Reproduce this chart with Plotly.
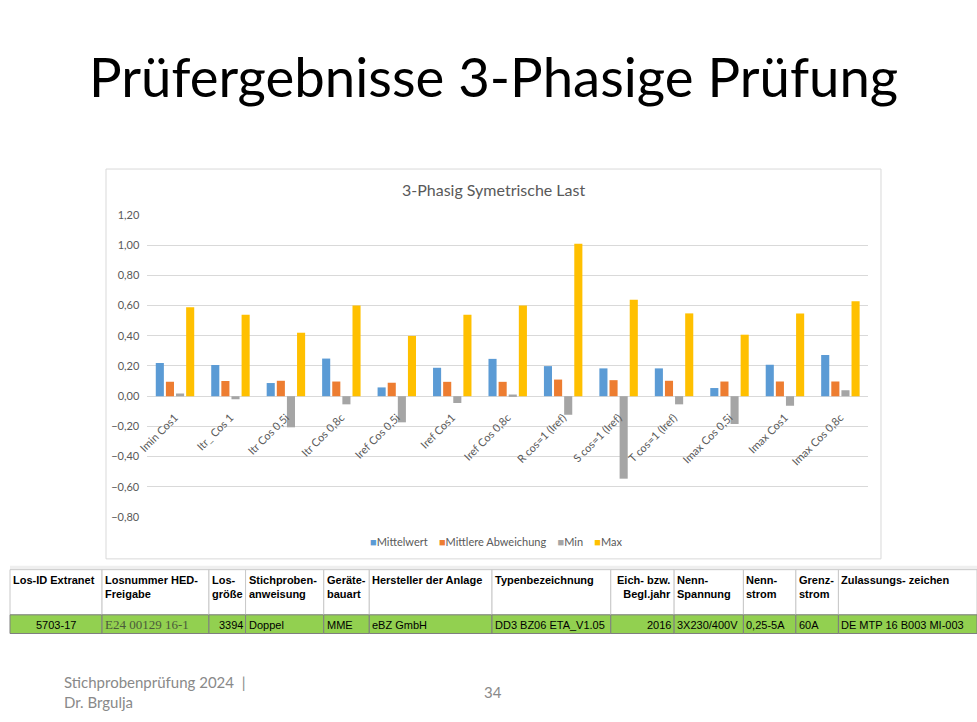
import plotly.graph_objects as go

categories = ["Imin Cos1", "Itr_ Cos 1", "Itr Cos 0,5i", "Itr Cos 0,8c", "Iref Cos 0,5i",
              "Iref Cos1", "Iref Cos 0,8c", "R cos=1 (Iref)", "S cos=1 (Iref)",
              "T cos=1 (Iref)", "Imax Cos 0,5i", "Imax Cos1", "Imax Cos 0,8c"]
mittelwert = [0.22, 0.206, 0.087, 0.249, 0.058, 0.188, 0.247, 0.199, 0.184, 0.184, 0.054, 0.208, 0.273]
abweichung = [0.095, 0.10, 0.102, 0.097, 0.089, 0.095, 0.095, 0.110, 0.106, 0.102, 0.097, 0.097, 0.097]
minimum = [0.017, -0.02, -0.206, -0.054, -0.173, -0.045, 0.011, -0.123, -0.546, -0.054, -0.184, -0.063, 0.039]
maximum = [0.589, 0.539, 0.42, 0.60, 0.399, 0.539, 0.60, 1.009, 0.639, 0.548, 0.407, 0.548, 0.628]

series_names = ["Mittelwert", "Mittlere Abweichung", "Min", "Max"]
series_colors = ["#5B9BD5", "#ED7D31", "#A5A5A5", "#FFC000"]

table_header = ["Los-ID Extranet", "Losnummer HED-<br>Freigabe", "Los-<br>größe",
                "Stichproben-<br>anweisung", "Geräte-<br>bauart", "Hersteller der Anlage",
                "Typenbezeichnung", "Eich- bzw.<br>Begl.jahr", "Nenn-<br>Spannung",
                "Nenn-<br>strom", "Grenz-<br>strom", "Zulassungs- zeichen"]
table_row = ["5703-17", "E24 00129 16-1", "3394", "Doppel", "MME", "eBZ GmbH",
             "DD3 BZ06 ETA_V1.05", "2016", "3X230/400V", "0,25-5A", "60A",
             "DE MTP 16 B003 MI-003"]
col_widths = [93, 108, 37, 79, 46, 124, 120, 64, 70, 53, 43, 140]
header_align = ["left"] * 7 + ["right"] + ["left"] * 4
row_align = ["center", "left", "right", "left", "left", "left", "left", "right",
             "left", "left", "left", "left"]

W, H = 977, 722
FONT = "Lato"


def px(x):
    return x / W


def py(y):
    return 1 - y / H


fig = go.Figure()
for name, vals, col in zip(series_names, [mittelwert, abweichung, minimum, maximum], series_colors):
    fig.add_trace(go.Bar(x=categories, y=vals, name=name, marker_color=col,
                         marker_line_width=0, hoverinfo="x+y+name"))

ymin, ymax = -0.8, 1.2
plot_top, plot_bot = 211.7, 519.4

shapes = [dict(type="rect", xref="paper", yref="paper",
               x0=px(97), x1=px(880), y0=py(562), y1=py(165),
               line=dict(color="#D9D9D9", width=1), fillcolor="rgba(0,0,0,0)", layer="below")]
annotations = [
    dict(text="Prüfergebnisse 3-Phasige Prüfung", xref="paper", yref="paper",
         x=px(489), y=py(70), xanchor="center", yanchor="middle", showarrow=False,
         font=dict(family=FONT, size=54.5, color="black")),
    dict(text="3-Phasig Symetrische Last", xref="paper", yref="paper",
         x=px(489), y=py(186), xanchor="center", yanchor="middle", showarrow=False,
         font=dict(family=FONT, size=16, color="#595959")),
    dict(text="Stichprobenprüfung 2024  |<br>Dr. Brgulja", xref="paper", yref="paper",
         x=px(53), y=py(698), xanchor="left", yanchor="middle", showarrow=False,
         align="left", font=dict(family=FONT, size=15, color="#898989")),
    dict(text="34", xref="paper", yref="paper",
         x=px(488), y=py(698), xanchor="center", yanchor="middle", showarrow=False,
         font=dict(family=FONT, size=15, color="#898989")),
]

# legend drawn as text with coloured squares
legend_parts = []
for name, col in zip(series_names, series_colors):
    legend_parts.append(f"<span style='color:{col}'>■</span>{name}")
annotations.append(dict(text="&nbsp;&nbsp;&nbsp;&nbsp;".join(legend_parts), xref="paper", yref="paper",
                        x=px(491), y=py(544), xanchor="center", yanchor="middle", showarrow=False,
                        font=dict(family=FONT, size=11, color="#595959")))

# table
t_top, t_mid, t_bot = 573, 619, 638
xs = [0]
for w in col_widths:
    xs.append(xs[-1] + w)
shapes.append(dict(type="rect", xref="paper", yref="paper",
                   x0=px(0), x1=px(977), y0=py(573), y1=py(569),
                   line=dict(width=0), fillcolor="#EFEFEF"))
for i in range(len(col_widths)):
    x0, x1 = xs[i], xs[i + 1]
    shapes.append(dict(type="rect", xref="paper", yref="paper",
                       x0=px(x0), x1=px(x1), y0=py(t_mid), y1=py(t_top),
                       line=dict(color="#C8C8C8", width=1), fillcolor="white"))
    shapes.append(dict(type="rect", xref="paper", yref="paper",
                       x0=px(x0), x1=px(x1), y0=py(t_bot), y1=py(t_mid),
                       line=dict(color="#7F7F7F", width=1), fillcolor="#92D050"))
    ha = header_align[i]
    hx = x0 + 1 if ha == "left" else x1 - 1
    annotations.append(dict(text=f"<b>{table_header[i]}</b>", xref="paper", yref="paper",
                            x=px(hx), y=py(t_top + 2), xanchor=ha, yanchor="top", align=ha,
                            showarrow=False,
                            font=dict(family="Liberation Sans", size=11, color="black")))
    ra = row_align[i]
    if ra == "left":
        rx = x0 + 1
    elif ra == "right":
        rx = x1 - 1
    else:
        rx = (x0 + x1) / 2
    serif = (i == 1)
    annotations.append(dict(text=table_row[i], xref="paper", yref="paper",
                            x=px(rx), y=py((t_mid + t_bot) / 2 + 0.5), xanchor=ra, yanchor="middle",
                            showarrow=False,
                            font=dict(family="Liberation Serif" if serif else "Liberation Sans",
                                      size=13 if serif else 11,
                                      color="#4A5A3A" if serif else "black")))

fig.update_layout(
    width=W, height=H,
    margin=dict(l=0, r=0, t=0, b=0),
    paper_bgcolor="white", plot_bgcolor="white",
    barmode="group", bargap=0.27, bargroupgap=0.2,
    font=dict(family=FONT, color="#595959"),
    showlegend=False,
    xaxis=dict(domain=[px(138.7), px(867)], anchor="free",
               position=py(plot_bot) + (0 - ymin) / (ymax - ymin) * ((plot_bot - plot_top) / H),
               tickangle=-45, tickfont=dict(size=11, color="#595959"), ticklabelstandoff=12,
               showgrid=False, showline=False, ticks="", zeroline=False),
    yaxis=dict(domain=[py(plot_bot), py(plot_top)], range=[ymin, ymax],
               dtick=0.2, tickformat=".2f", showgrid=True, gridcolor="#D9D9D9",
               zeroline=True, zerolinecolor="#D9D9D9", zerolinewidth=1, ticklabelstandoff=7,
               showline=False, ticks="", tickfont=dict(size=11, color="#595959")),
    separators=",.",
    shapes=shapes,
    annotations=annotations,
)

fig.write_html("out.html", config={"displayModeBar": False},
               post_script="document.body.style.margin='0';")
